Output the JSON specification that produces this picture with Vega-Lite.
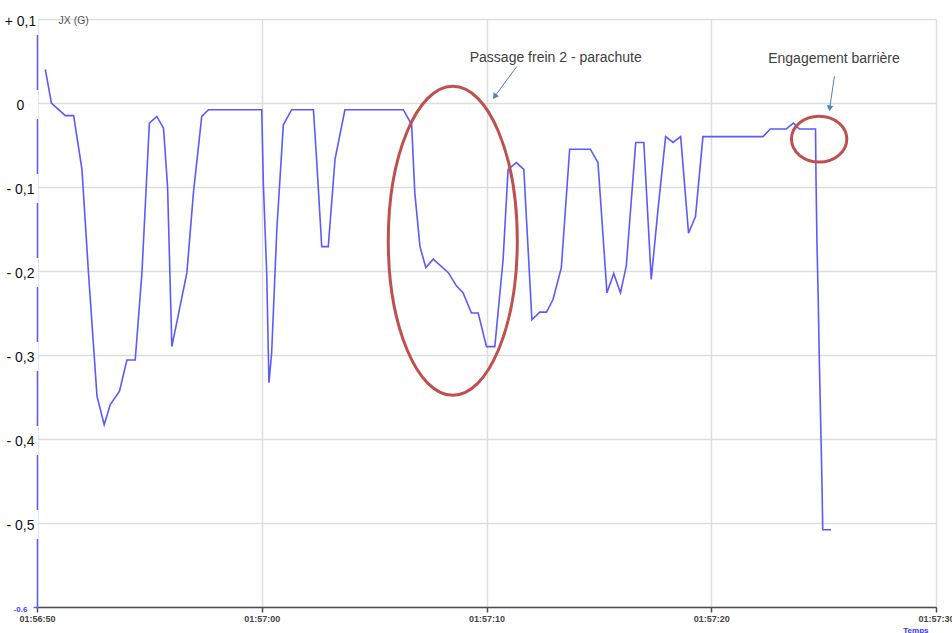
{
  "$schema": "https://vega.github.io/schema/vega-lite/v6.json",
  "width": 899,
  "height": 588,
  "autosize": {"type": "none"},
  "padding": {"left": 37, "top": 19, "right": 16, "bottom": 26},
  "background": "white",
  "config": {"view": {"stroke": null}, "font": "Liberation Sans"},
  "datasets": {
    "jx": [
      {"t": "2000-01-01T01:56:50.370Z", "v": 0.04},
      {"t": "2000-01-01T01:56:50.640Z", "v": 0},
      {"t": "2000-01-01T01:56:51.260Z", "v": -0.015},
      {"t": "2000-01-01T01:56:51.630Z", "v": -0.015},
      {"t": "2000-01-01T01:56:52.000Z", "v": -0.079},
      {"t": "2000-01-01T01:56:52.290Z", "v": -0.202},
      {"t": "2000-01-01T01:56:52.670Z", "v": -0.349},
      {"t": "2000-01-01T01:56:52.990Z", "v": -0.383},
      {"t": "2000-01-01T01:56:53.260Z", "v": -0.359},
      {"t": "2000-01-01T01:56:53.670Z", "v": -0.343},
      {"t": "2000-01-01T01:56:54.000Z", "v": -0.306},
      {"t": "2000-01-01T01:56:54.370Z", "v": -0.306},
      {"t": "2000-01-01T01:56:54.670Z", "v": -0.202},
      {"t": "2000-01-01T01:56:55.000Z", "v": -0.024},
      {"t": "2000-01-01T01:56:55.330Z", "v": -0.016},
      {"t": "2000-01-01T01:56:55.630Z", "v": -0.03},
      {"t": "2000-01-01T01:56:55.810Z", "v": -0.1},
      {"t": "2000-01-01T01:56:56.000Z", "v": -0.29},
      {"t": "2000-01-01T01:56:56.670Z", "v": -0.202},
      {"t": "2000-01-01T01:56:56.960Z", "v": -0.107},
      {"t": "2000-01-01T01:56:57.330Z", "v": -0.016},
      {"t": "2000-01-01T01:56:57.630Z", "v": -0.008},
      {"t": "2000-01-01T01:57:00.000Z", "v": -0.008},
      {"t": "2000-01-01T01:57:00.070Z", "v": -0.095},
      {"t": "2000-01-01T01:57:00.220Z", "v": -0.202},
      {"t": "2000-01-01T01:57:00.320Z", "v": -0.333},
      {"t": "2000-01-01T01:57:00.440Z", "v": -0.298},
      {"t": "2000-01-01T01:57:00.670Z", "v": -0.151},
      {"t": "2000-01-01T01:57:00.960Z", "v": -0.026},
      {"t": "2000-01-01T01:57:01.330Z", "v": -0.008},
      {"t": "2000-01-01T01:57:02.300Z", "v": -0.008},
      {"t": "2000-01-01T01:57:02.440Z", "v": -0.067},
      {"t": "2000-01-01T01:57:02.670Z", "v": -0.171},
      {"t": "2000-01-01T01:57:02.960Z", "v": -0.171},
      {"t": "2000-01-01T01:57:03.260Z", "v": -0.067},
      {"t": "2000-01-01T01:57:03.700Z", "v": -0.008},
      {"t": "2000-01-01T01:57:06.300Z", "v": -0.008},
      {"t": "2000-01-01T01:57:06.670Z", "v": -0.026},
      {"t": "2000-01-01T01:57:06.810Z", "v": -0.107},
      {"t": "2000-01-01T01:57:07.040Z", "v": -0.171},
      {"t": "2000-01-01T01:57:07.300Z", "v": -0.196},
      {"t": "2000-01-01T01:57:07.630Z", "v": -0.186},
      {"t": "2000-01-01T01:57:08.300Z", "v": -0.202},
      {"t": "2000-01-01T01:57:08.670Z", "v": -0.218},
      {"t": "2000-01-01T01:57:08.960Z", "v": -0.226},
      {"t": "2000-01-01T01:57:09.330Z", "v": -0.25},
      {"t": "2000-01-01T01:57:09.630Z", "v": -0.25},
      {"t": "2000-01-01T01:57:10.000Z", "v": -0.29},
      {"t": "2000-01-01T01:57:10.370Z", "v": -0.29},
      {"t": "2000-01-01T01:57:10.740Z", "v": -0.186},
      {"t": "2000-01-01T01:57:10.960Z", "v": -0.079},
      {"t": "2000-01-01T01:57:11.330Z", "v": -0.071},
      {"t": "2000-01-01T01:57:11.660Z", "v": -0.079},
      {"t": "2000-01-01T01:57:12.020Z", "v": -0.258},
      {"t": "2000-01-01T01:57:12.370Z", "v": -0.249},
      {"t": "2000-01-01T01:57:12.670Z", "v": -0.249},
      {"t": "2000-01-01T01:57:12.960Z", "v": -0.234},
      {"t": "2000-01-01T01:57:13.330Z", "v": -0.196},
      {"t": "2000-01-01T01:57:13.700Z", "v": -0.055},
      {"t": "2000-01-01T01:57:14.620Z", "v": -0.055},
      {"t": "2000-01-01T01:57:14.960Z", "v": -0.071},
      {"t": "2000-01-01T01:57:15.360Z", "v": -0.226},
      {"t": "2000-01-01T01:57:15.660Z", "v": -0.203},
      {"t": "2000-01-01T01:57:15.960Z", "v": -0.226},
      {"t": "2000-01-01T01:57:16.220Z", "v": -0.194},
      {"t": "2000-01-01T01:57:16.640Z", "v": -0.047},
      {"t": "2000-01-01T01:57:17.000Z", "v": -0.047},
      {"t": "2000-01-01T01:57:17.330Z", "v": -0.21},
      {"t": "2000-01-01T01:57:17.630Z", "v": -0.127},
      {"t": "2000-01-01T01:57:17.970Z", "v": -0.04},
      {"t": "2000-01-01T01:57:18.300Z", "v": -0.047},
      {"t": "2000-01-01T01:57:18.640Z", "v": -0.04},
      {"t": "2000-01-01T01:57:18.990Z", "v": -0.155},
      {"t": "2000-01-01T01:57:19.300Z", "v": -0.135},
      {"t": "2000-01-01T01:57:19.630Z", "v": -0.04},
      {"t": "2000-01-01T01:57:22.300Z", "v": -0.04},
      {"t": "2000-01-01T01:57:22.630Z", "v": -0.031},
      {"t": "2000-01-01T01:57:23.330Z", "v": -0.031},
      {"t": "2000-01-01T01:57:23.660Z", "v": -0.024},
      {"t": "2000-01-01T01:57:23.920Z", "v": -0.031},
      {"t": "2000-01-01T01:57:24.640Z", "v": -0.031},
      {"t": "2000-01-01T01:57:24.660Z", "v": -0.087},
      {"t": "2000-01-01T01:57:24.700Z", "v": -0.161},
      {"t": "2000-01-01T01:57:24.760Z", "v": -0.234},
      {"t": "2000-01-01T01:57:24.810Z", "v": -0.308},
      {"t": "2000-01-01T01:57:24.870Z", "v": -0.381},
      {"t": "2000-01-01T01:57:24.930Z", "v": -0.457},
      {"t": "2000-01-01T01:57:24.960Z", "v": -0.508},
      {"t": "2000-01-01T01:57:25.330Z", "v": -0.508}
    ],
    "ticks": [{"v": 0.1}, {"v": 0}, {"v": -0.1}, {"v": -0.2}, {"v": -0.3}, {"v": -0.4}, {"v": -0.5}],
    "ellipses": [
      {"name": "frein", "t": "2000-01-01T01:57:08.500Z", "v": -0.164},
      {"name": "barriere", "t": "2000-01-01T01:57:24.800Z", "v": -0.043}
    ],
    "arrows": [
      {"name": "frein", "t0": "2000-01-01T01:57:11.350Z", "v0": 0.0436, "t1": "2000-01-01T01:57:10.360Z", "v1": 0.0076},
      {"name": "barriere", "t0": "2000-01-01T01:57:25.480Z", "v0": 0.0317, "t1": "2000-01-01T01:57:25.270Z", "v1": -0.0064}
    ],
    "notes": [
      {"label": "Passage frein 2 - parachute", "t": "2000-01-01T01:57:13.080Z", "v": 0.0536},
      {"label": "Engagement barrière", "t": "2000-01-01T01:57:25.460Z", "v": 0.0524}
    ]
  },
  "layer": [
    {
      "data": {"name": "jx"},
      "mark": {"type": "line", "color": "#5a5aff", "strokeWidth": 1.6},
      "encoding": {
        "x": {
          "field": "t",
          "type": "temporal",
          "scale": {
            "type": "utc",
            "nice": false,
            "domain": [
              {"year": 2000, "month": 1, "date": 1, "hours": 1, "minutes": 56, "seconds": 50, "utc": true},
              {"year": 2000, "month": 1, "date": 1, "hours": 1, "minutes": 57, "seconds": 30, "utc": true}
            ]
          },
          "axis": {
            "values": [
              {"year": 2000, "month": 1, "date": 1, "hours": 1, "minutes": 56, "seconds": 50, "utc": true},
              {"year": 2000, "month": 1, "date": 1, "hours": 1, "minutes": 57, "seconds": 0, "utc": true},
              {"year": 2000, "month": 1, "date": 1, "hours": 1, "minutes": 57, "seconds": 10, "utc": true},
              {"year": 2000, "month": 1, "date": 1, "hours": 1, "minutes": 57, "seconds": 20, "utc": true},
              {"year": 2000, "month": 1, "date": 1, "hours": 1, "minutes": 57, "seconds": 30, "utc": true}
            ],
            "format": "%H:%M:%S",
            "grid": true,
            "gridColor": "#dddddd",
            "gridWidth": 1.5,
            "domainColor": "#4d4d4d",
            "domainWidth": 1.5,
            "tickColor": "#4d4d4d",
            "tickWidth": 1.5,
            "tickSize": 5,
            "labelFont": "Liberation Sans",
            "labelFontSize": 9,
            "labelFontWeight": "bold",
            "labelColor": "#444444",
            "labelPadding": 2,
            "labelFlush": false,
            "labelOverlap": false,
            "title": "Temps",
            "titleColor": "#3333ff",
            "titleFont": "Liberation Sans",
            "titleFontSize": 8,
            "titleFontWeight": "bold",
            "titleAnchor": "end",
            "titleAlign": "right",
            "titleBaseline": "alphabetic",
            "titleX": 891,
            "titleY": 25,
            "zindex": 0
          }
        },
        "y": {
          "field": "v",
          "type": "quantitative",
          "scale": {"domain": [-0.6, 0.1], "nice": false, "zero": false},
          "axis": {
            "values": [0.1, 0, -0.1, -0.2, -0.3, -0.4, -0.5, -0.6],
            "labelExpr": "datum.value > 0.05 ? '+ 0,1' : (abs(datum.value) < 0.05 ? '0' : (datum.value < -0.55 ? '-0.6' : '- ' + replace(format(-datum.value, '.1f'), '.', ',')))",
            "grid": true,
            "gridColor": "#dddddd",
            "gridWidth": 1.5,
            "domainColor": "#5a5aff",
            "domainWidth": 1.5,
            "ticks": true,
            "tickSize": 4,
            "tickWidth": 1.5,
            "tickColor": {"condition": {"test": "datum.value < -0.55", "value": "#5a5aff"}, "value": "transparent"},
            "labelPadding": 13,
            "labelAlign": "center",
            "labelBaseline": "middle",
            "labelOffset": 2,
            "labelFont": "Liberation Sans",
            "labelFontSize": {"condition": {"test": "datum.value < -0.55", "value": 8}, "value": 14},
            "labelColor": {"condition": {"test": "datum.value < -0.55", "value": "#4444ff"}, "value": "#111111"},
            "labelFontWeight": {"condition": {"test": "datum.value < -0.55", "value": "bold"}, "value": "normal"},
            "labelFlush": false,
            "labelOverlap": false,
            "title": "JX (G)",
            "titleAngle": 0,
            "titleX": 21,
            "titleY": 1,
            "titleAlign": "left",
            "titleBaseline": "middle",
            "titleFont": "Liberation Sans",
            "titleFontSize": 10.5,
            "titleFontWeight": "normal",
            "titleColor": "#555555",
            "zindex": 0
          }
        }
      }
    },
    {
      "data": {"name": "ticks"},
      "mark": {"type": "point", "shape": "M -0.1 -1 L 0.1 -1 L 0.1 1 L -0.1 1 Z", "size": 841, "filled": true, "color": "white", "opacity": 1, "strokeWidth": 0, "yOffset": 1.5},
      "encoding": {
        "x": {"datum": {"year": 2000, "month": 1, "date": 1, "hours": 1, "minutes": 56, "seconds": 50, "utc": true}, "type": "temporal"},
        "y": {"field": "v", "type": "quantitative"}
      }
    },
    {
      "data": {"name": "ellipses"},
      "transform": [{"filter": "datum.name === 'frein'"}],
      "mark": {"type": "point", "shape": "M 0.4175 0 C 0.4175 0.5523 0.2306 1 0 1 C -0.2306 1 -0.4175 0.5523 -0.4175 0 C -0.4175 -0.5523 -0.2306 -1 0 -1 C 0.2306 -1 0.4175 -0.5523 0.4175 0 Z", "size": 95481, "filled": false, "color": "#C0504D", "strokeWidth": 3, "opacity": 1},
      "encoding": {
        "x": {"field": "t", "type": "temporal"},
        "y": {"field": "v", "type": "quantitative"}
      }
    },
    {
      "data": {"name": "ellipses"},
      "transform": [{"filter": "datum.name === 'barriere'"}],
      "mark": {"type": "point", "shape": "M 1 0 C 1 0.4584 0.5523 0.83 0 0.83 C -0.5523 0.83 -1 0.4584 -1 0 C -1 -0.4584 -0.5523 -0.83 0 -0.83 C 0.5523 -0.83 1 -0.4584 1 0 Z", "size": 3069, "filled": false, "color": "#C0504D", "strokeWidth": 3, "opacity": 1},
      "encoding": {
        "x": {"field": "t", "type": "temporal"},
        "y": {"field": "v", "type": "quantitative"}
      }
    },
    {
      "data": {"name": "arrows"},
      "mark": {"type": "rule", "color": "#4F81BD", "strokeWidth": 1},
      "encoding": {
        "x": {"field": "t0", "type": "temporal"},
        "y": {"field": "v0", "type": "quantitative"},
        "x2": {"field": "t1"},
        "y2": {"field": "v1"}
      }
    },
    {
      "data": {"name": "arrows"},
      "transform": [{"filter": "datum.name === 'frein'"}],
      "mark": {"type": "point", "shape": "triangle-up", "size": 45, "filled": true, "color": "#4F81BD", "opacity": 1, "angle": 216},
      "encoding": {
        "x": {"field": "t1", "type": "temporal"},
        "y": {"field": "v1", "type": "quantitative"}
      }
    },
    {
      "data": {"name": "arrows"},
      "transform": [{"filter": "datum.name === 'barriere'"}],
      "mark": {"type": "point", "shape": "triangle-up", "size": 45, "filled": true, "color": "#4F81BD", "opacity": 1, "angle": 189},
      "encoding": {
        "x": {"field": "t1", "type": "temporal"},
        "y": {"field": "v1", "type": "quantitative"}
      }
    },
    {
      "data": {"name": "notes"},
      "mark": {"type": "text", "font": "Liberation Sans", "fontSize": 14, "color": "#404040", "align": "center", "baseline": "middle"},
      "encoding": {
        "x": {"field": "t", "type": "temporal"},
        "y": {"field": "v", "type": "quantitative"},
        "text": {"field": "label"}
      }
    }
  ]
}
